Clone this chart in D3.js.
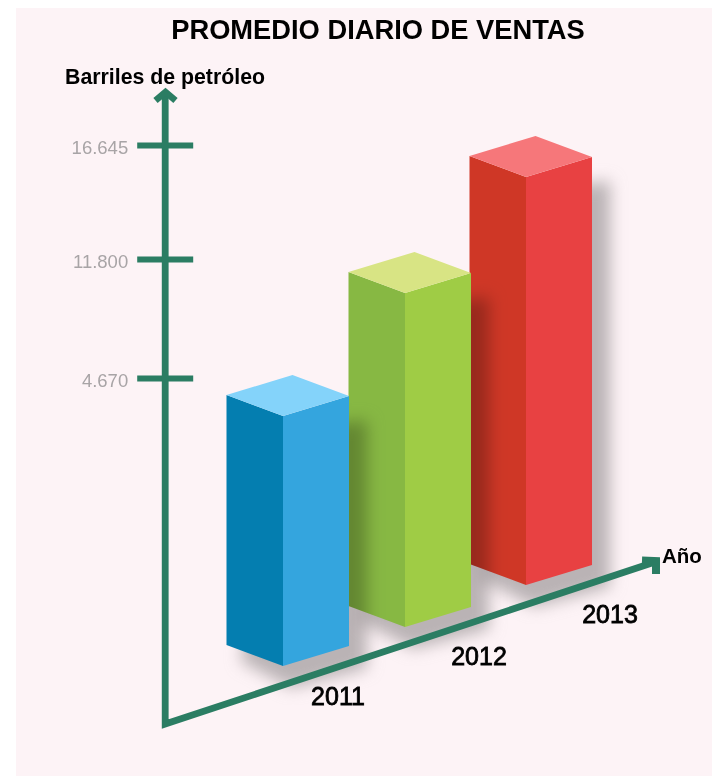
<!DOCTYPE html>
<html>

<head>
    <meta charset="utf-8">
    <title>Promedio diario de ventas</title>
    <style>
        html, body { margin: 0; padding: 0; background: #fff; }
        svg { display: block; }
        text { font-family: "Liberation Sans", Arial, sans-serif; }
    </style>
</head>

<body>
    <script src="https://cdn.jsdelivr.net/npm/d3@7/dist/d3.min.js" charset="utf-8"></script>
    <script>
        const years = [2011, 2012, 2013];
        const barrels = [4670, 11800, 16645];
        const tickValues = [4670, 11800, 16645];

        const leftColors = ["#047eb0", "#87b843", "#cf3726"];
        const rightColors = ["#34a5de", "#9fcc45", "#e84142"];
        const topColors = ["#84d3fa", "#d8e484", "#f6777a"];

        const width = 712, height = 776;
        const green = "#2b7d63";

        const svg = d3.select("body").append("svg")
            .attr("width", width)
            .attr("height", height);

        // fondo rosa
        svg.append("rect")
            .attr("x", 16).attr("y", 8)
            .attr("width", width - 16).attr("height", height - 8)
            .attr("fill", "#fdf3f6");

        const blur = svg.append("defs").append("filter")
            .attr("id", "blur")
            .attr("x", "-30%").attr("y", "-30%")
            .attr("width", "160%").attr("height", "160%");
        blur.append("feGaussianBlur").attr("stdDeviation", 8);

        // eje vertical no lineal: las marcas no guardan proporcion con el valor
        const y = d3.scaleLinear()
            .domain(tickValues)
            .range([378, 259, 145]);
        const barHeight = d3.scaleLinear()
            .domain([0, 4670, 11800, 16645])
            .range([0, 250, 334, 408]);
        // la base de cada barra sigue el eje oblicuo
        const baseX = d3.scaleLinear().domain(years).range([283, 405, 526]);
        const baseY = d3.scaleLinear().domain(years).range([666, 627, 585]);
        const labelX = d3.scaleLinear().domain(years).range([338, 479, 610]);
        const labelY = d3.scaleLinear().domain(years).range([705, 665, 623]);

        const leftDx = 56.5, leftDy = 21, rightDx = 66, rightDy = 20;
        const line = d3.line();

        const bars = years.map((year, i) => ({
            year: year,
            x: baseX(year),
            y: baseY(year),
            h: barHeight(barrels[i]),
            i: i
        }));

        // se pintan de atras hacia adelante
        const barGroups = svg.selectAll("g.bar")
            .data(bars.slice().reverse())
            .enter()
            .append("g")
            .attr("class", "bar");

        barGroups.append("path")
            .attr("fill", "#bcbcbc")
            .attr("filter", "url(#blur)")
            .style("mix-blend-mode", "multiply")
            .attr("d", d => line([
                [d.x, d.y - d.h + 14],
                [d.x + rightDx + 18, d.y - d.h - rightDy + 24],
                [d.x + rightDx + 18, d.y - rightDy + 22],
                [d.x + 8, d.y + 22],
                [d.x - leftDx + 14, d.y - leftDy + 16]
            ]) + "Z");

        barGroups.append("path")
            .attr("fill", d => leftColors[d.i])
            .attr("d", d => line([
                [d.x, d.y], [d.x - leftDx, d.y - leftDy],
                [d.x - leftDx, d.y - leftDy - d.h], [d.x, d.y - d.h]
            ]) + "Z");

        barGroups.append("path")
            .attr("fill", d => rightColors[d.i])
            .attr("d", d => line([
                [d.x, d.y], [d.x + rightDx, d.y - rightDy],
                [d.x + rightDx, d.y - rightDy - d.h], [d.x, d.y - d.h]
            ]) + "Z");

        barGroups.append("path")
            .attr("fill", d => topColors[d.i])
            .attr("d", d => line([
                [d.x, d.y - d.h], [d.x - leftDx, d.y - leftDy - d.h],
                [d.x - leftDx + rightDx, d.y - leftDy - rightDy - d.h],
                [d.x + rightDx, d.y - rightDy - d.h]
            ]) + "Z");

        // ejes
        const axisX = 165.2;
        const esLocale = d3.formatLocale({ decimal: ",", thousands: ".", grouping: [3], currency: ["", ""] });

        const yAxis = svg.append("g")
            .attr("transform", "translate(" + axisX + ",0)")
            .call(d3.axisLeft(y)
                .tickValues(tickValues)
                .tickFormat(esLocale.format(",d"))
                .tickSize(28)
                .tickPadding(9));
        yAxis.select(".domain").remove();
        yAxis.selectAll(".tick line")
            .attr("x1", -28).attr("x2", 28)
            .attr("stroke", green)
            .attr("stroke-width", 6);
        yAxis.selectAll(".tick text")
            .attr("fill", "#a8a4a6")
            .attr("dy", "0.45em")
            .style("font-family", "'Liberation Sans', Arial, sans-serif")
            .style("font-size", "18.5px");

        svg.append("path")
            .attr("fill", "none")
            .attr("stroke", green)
            .attr("stroke-width", 6.8)
            .attr("stroke-linejoin", "miter")
            .attr("d", line([[axisX, 92], [axisX, 724], [655, 562]]));

        // punta del eje vertical
        svg.append("path")
            .attr("fill", "none")
            .attr("stroke", green)
            .attr("stroke-width", 6.6)
            .attr("d", line([[155.5, 100.5], [axisX + 0.3, 92], [175.5, 100.5]]));

        // punta del eje de los anos
        svg.append("path")
            .attr("fill", "none")
            .attr("stroke", green)
            .attr("stroke-width", 8)
            .attr("d", line([[642, 560.5], [656, 561], [656, 574]]));

        // textos
        svg.append("text")
            .attr("x", 378).attr("y", 39)
            .attr("text-anchor", "middle")
            .attr("font-size", 27.3)
            .attr("font-weight", "bold")
            .text("PROMEDIO DIARIO DE VENTAS");

        svg.append("text")
            .attr("x", 65).attr("y", 84)
            .attr("font-size", 21.3)
            .attr("font-weight", "bold")
            .text("Barriles de petróleo");

        svg.append("text")
            .attr("x", 662).attr("y", 563)
            .attr("font-size", 20.5)
            .attr("font-weight", "bold")
            .text("Año");

        svg.selectAll("text.year")
            .data(years)
            .enter()
            .append("text")
            .attr("class", "year")
            .attr("x", d => labelX(d))
            .attr("y", d => labelY(d))
            .attr("text-anchor", "middle")
            .attr("font-size", 25)
            .attr("stroke", "#000")
            .attr("stroke-width", 0.8)
            .text(d => d);
    </script>

</body>

</html>
